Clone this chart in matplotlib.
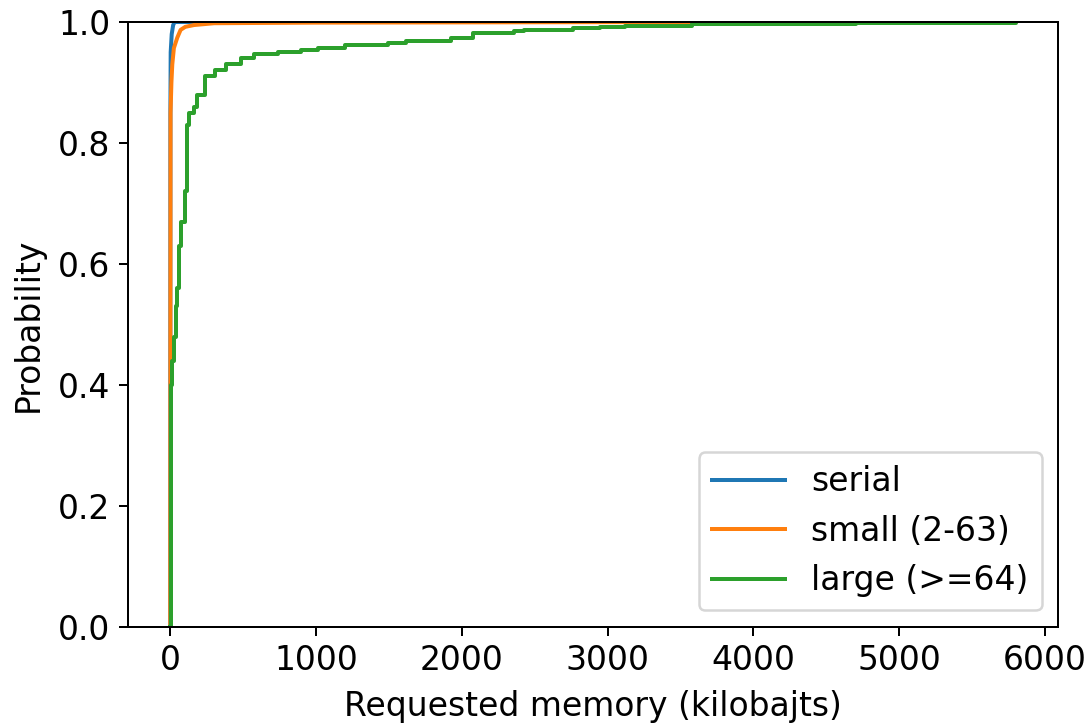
# CDF of requested memory per job class
import matplotlib
matplotlib.use("Agg")
import matplotlib.pyplot as plt

# values
serial_mem = [0, 1, 3, 10, 20, 30, 500]
serial_prob = [0.0, 0.85, 0.95, 0.98, 0.995, 1.0, 1.0]

small_mem = [0, 1, 2, 8, 14, 25, 48, 71, 103, 163, 301, 1000, 3600]
small_prob = [0.0, 0.5, 0.85, 0.90, 0.93, 0.957, 0.974, 0.987, 0.992, 0.995, 0.998, 0.999, 1.0]

large_mem = [0, 2, 8, 14, 25, 37, 48, 60, 76, 99, 117, 129, 163, 186, 241, 310, 379,
             483, 577, 738, 897, 1014, 1200, 1496, 1614, 1924, 2074, 2359, 2428,
             2763, 2945, 3117, 3579, 4303, 4703, 5800]
large_prob = [0.0, 0.26, 0.40, 0.44, 0.48, 0.53, 0.56, 0.63, 0.67, 0.72, 0.83, 0.85,
              0.86, 0.88, 0.91, 0.92, 0.93, 0.94, 0.947, 0.950, 0.954, 0.957, 0.962,
              0.965, 0.969, 0.974, 0.982, 0.985, 0.987, 0.990, 0.992, 0.994, 0.996,
              0.997, 0.998, 1.0]

plt.rcParams['font.size'] = 13.2

fig = plt.figure(figsize=(1091 / 180, 724 / 180), dpi=180)
ax = fig.add_axes([0.1173, 0.134, 0.8525, 0.8356])

ax.plot(serial_mem, serial_prob, lw=1.6, label='serial')
ax.plot(small_mem, small_prob, lw=1.6, label='small (2-63)')
ax.step(large_mem, large_prob, where='post', lw=1.6, label='large (>=64)')

ax.set_ylim(0, 1)
ax.set_xlabel("Requested memory (kilobajts)", labelpad=5)
ax.set_ylabel("Probability", labelpad=5.5)
ax.legend(loc='lower right', handlelength=2.2)

fig.savefig("out.png", dpi=180)
